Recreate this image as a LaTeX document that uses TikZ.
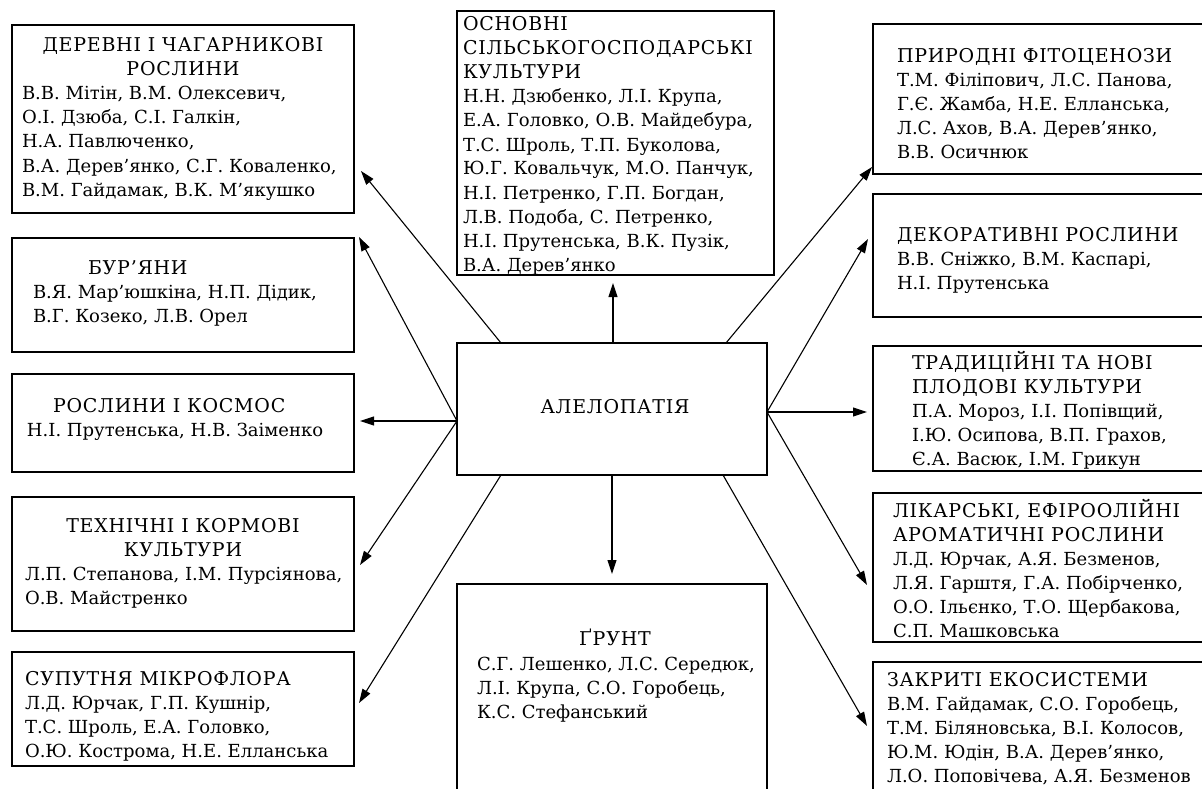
\documentclass[tikz,border=0pt]{standalone}
\usepackage{fontspec}
\setmainfont{DejaVu Serif}
\usetikzlibrary{arrows.meta,calc}
\tikzset{
  box/.style={draw, line width=1.1pt, inner sep=0pt, outer sep=0pt, anchor=north west},
  txt/.style={inner sep=0pt, outer sep=0pt, font=\fontsize{18}{24}\selectfont},
  hd/.style={font=\fontsize{19}{24}\selectfont\addfontfeature{LetterSpace=4}},
  arr/.style={line width=1.1pt, -{Triangle[length=14pt,width=9pt]}},
}
\newcommand\txtlines[5][]{\foreach \tline [count=\i] in {#5} {\node[txt, #1, anchor=base west] (#2-\i) at (#3, {#4+24*(\i-1)}) {\tline};}}
\newcommand\txtlinesc[5][]{\foreach \tline [count=\i] in {#5} {\node[txt, #1, anchor=base] (#2-\i) at (#3, {#4+24*(\i-1)}) {\tline};}}
\begin{document}
\begin{tikzpicture}[x=1pt,y=-1pt]
\useasboundingbox (0,0) rectangle (1202,789);
\clip (0,0) rectangle (1202,789);
% boxes
\node[box, minimum width=342pt, minimum height=188pt] (L1) at (12,25) {};
\node[box, minimum width=342pt, minimum height=114pt] (L2) at (12,238) {};
\node[box, minimum width=342pt, minimum height=98pt] (L3) at (12,374) {};
\node[box, minimum width=342pt, minimum height=134pt] (L4) at (12,497) {};
\node[box, minimum width=342pt, minimum height=114pt] (L5) at (12,652) {};
\node[box, minimum width=317pt, minimum height=264pt] (T) at (457,11) {};
\node[box, minimum width=310pt, minimum height=132pt] (C) at (457,343) {};
\node[box, minimum width=310pt, minimum height=230pt] (B) at (457,584) {};
\node[box, minimum width=345pt, minimum height=150pt] (R1) at (873,24) {};
\node[box, minimum width=345pt, minimum height=123pt] (R2) at (873,194) {};
\node[box, minimum width=345pt, minimum height=125pt] (R3) at (873,346) {};
\node[box, minimum width=345pt, minimum height=149pt] (R4) at (873,493) {};
\node[box, minimum width=345pt, minimum height=150pt] (R5) at (873,662) {};
% texts
\txtlinesc[hd]{l1h}{183}{52}{{ДЕРЕВНІ І ЧАГАРНИКОВІ},{РОСЛИНИ}}
\txtlines{l1n}{22}{100}{{В.В. Мітін, В.М. Олексевич,},{О.І. Дзюба, С.І. Галкін,},{Н.А. Павлюченко,},{В.А. Дерев’янко, С.Г. Коваленко,},{В.М. Гайдамак, В.К. М’якушко}}
\txtlines[hd]{l2h}{88}{274}{{БУР’ЯНИ}}
\txtlines{l2n}{33}{298}{{В.Я. Мар’юшкіна, Н.П. Дідик,},{В.Г. Козеко, Л.В. Орел}}
\txtlines[hd]{l3h}{53}{412}{{РОСЛИНИ І КОСМОС}}
\txtlines{l3n}{27}{436}{{Н.І. Прутенська, Н.В. Заіменко}}
\txtlinesc[hd]{l4h}{183}{532}{{ТЕХНІЧНІ І КОРМОВІ},{КУЛЬТУРИ}}
\txtlines{l4n}{25}{580}{{Л.П. Степанова, І.М. Пурсіянова,},{О.В. Майстренко}}
\txtlines[hd]{l5h}{25}{685}{{СУПУТНЯ МІКРОФЛОРА}}
\txtlines{l5n}{25}{709}{{Л.Д. Юрчак, Г.П. Кушнір,},{Т.С. Шроль, Е.А. Головко,},{О.Ю. Кострома, Н.Е. Елланська}}
\txtlines[hd]{th}{463}{31}{{ОСНОВНІ},{СІЛЬСЬКОГОСПОДАРСЬКІ},{КУЛЬТУРИ}}
\txtlines{tn}{463}{103}{{Н.Н. Дзюбенко, Л.І. Крупа,},{Е.А. Головко, О.В. Майдебура,},{Т.С. Шроль, Т.П. Буколова,},{Ю.Г. Ковальчук, М.О. Панчук,},{Н.І. Петренко, Г.П. Богдан,},{Л.В. Подоба, С. Петренко,},{Н.І. Прутенська, В.К. Пузік,},{В.А. Дерев’янко}}
\node[txt, hd, anchor=base] (ct) at (615,413) {АЛЕЛОПАТІЯ};
\node[txt, hd, anchor=base] (bh) at (615,645) {ҐРУНТ};
\txtlines{bn}{477}{670}{{С.Г. Лешенко, Л.С. Середюк,},{Л.І. Крупа, С.О. Горобець,},{К.С. Стефанський}}
\txtlines[hd]{r1h}{897}{63}{{ПРИРОДНІ ФІТОЦЕНОЗИ}}
\txtlines{r1n}{897}{87}{{Т.М. Філіпович, Л.С. Панова,},{Г.Є. Жамба, Н.Е. Елланська,},{Л.С. Ахов, В.А. Дерев’янко,},{В.В. Осичнюк}}
\txtlines[hd]{r2h}{897}{241}{{ДЕКОРАТИВНІ РОСЛИНИ}}
\txtlines{r2n}{897}{265}{{В.В. Сніжко, В.М. Каспарі,},{Н.І. Прутенська}}
\txtlines[hd]{r3h}{912}{369}{{ТРАДИЦІЙНІ ТА НОВІ},{ПЛОДОВІ КУЛЬТУРИ}}
\txtlines{r3n}{912}{417}{{П.А. Мороз, І.І. Попівщий,},{І.Ю. Осипова, В.П. Грахов,},{Є.А. Васюк, І.М. Грикун}}
\txtlines[hd]{r4h}{893}{517}{{ЛІКАРСЬКІ, ЕФІРООЛІЙНІ},{АРОМАТИЧНІ РОСЛИНИ}}
\txtlines{r4n}{893}{565}{{Л.Д. Юрчак, А.Я. Безменов,},{Л.Я. Гарштя, Г.А. Побірченко,},{О.О. Ільєнко, Т.О. Щербакова,},{С.П. Машковська}}
\txtlines[hd]{r5h}{887}{686}{{ЗАКРИТІ ЕКОСИСТЕМИ}}
\txtlines{r5n}{887}{710}{{В.М. Гайдамак, С.О. Горобець,},{Т.М. Біляновська, В.І. Колосов,},{Ю.М. Юдін, В.А. Дерев’янко,},{Л.О. Поповічева, А.Я. Безменов}}
% connector end points
\coordinate (sTL) at (501,343);
\coordinate (sTR) at (726,343);
\coordinate (sL) at (457,421);
\coordinate (sR) at (767,412);
\coordinate (sBL) at (501,475);
\coordinate (sBR) at (723,475);
\coordinate (sUp) at (613,343);
\coordinate (sDn) at (612,475);
\coordinate (eL1) at (361,171);
\coordinate (eL2) at (359,237);
\coordinate (eL3) at (360,421);
\coordinate (eL4) at (360,565);
\coordinate (eL5) at (359,703);
\coordinate (eT) at (613,283);
\coordinate (eB) at (612,574);
\coordinate (eR1) at (872,167);
\coordinate (eR2) at (868,239);
\coordinate (eR3) at (867,412);
\coordinate (eR4) at (867,585);
\coordinate (eR5) at (867,726);
% connectors
\draw[arr] (sTL) -- (eL1);
\draw[arr] (sL) -- (eL2);
\draw[arr] (sL) -- (eL3);
\draw[arr] (sL) -- (eL4);
\draw[arr] (sBL) -- (eL5);
\draw[arr] (sUp) -- (eT);
\draw[arr] (sDn) -- (eB);
\draw[arr] (sTR) -- (eR1);
\draw[arr] (sR) -- (eR2);
\draw[arr] (sR) -- (eR3);
\draw[arr] (sR) -- (eR4);
\draw[arr] (sBR) -- (eR5);
\end{tikzpicture}
\end{document}
